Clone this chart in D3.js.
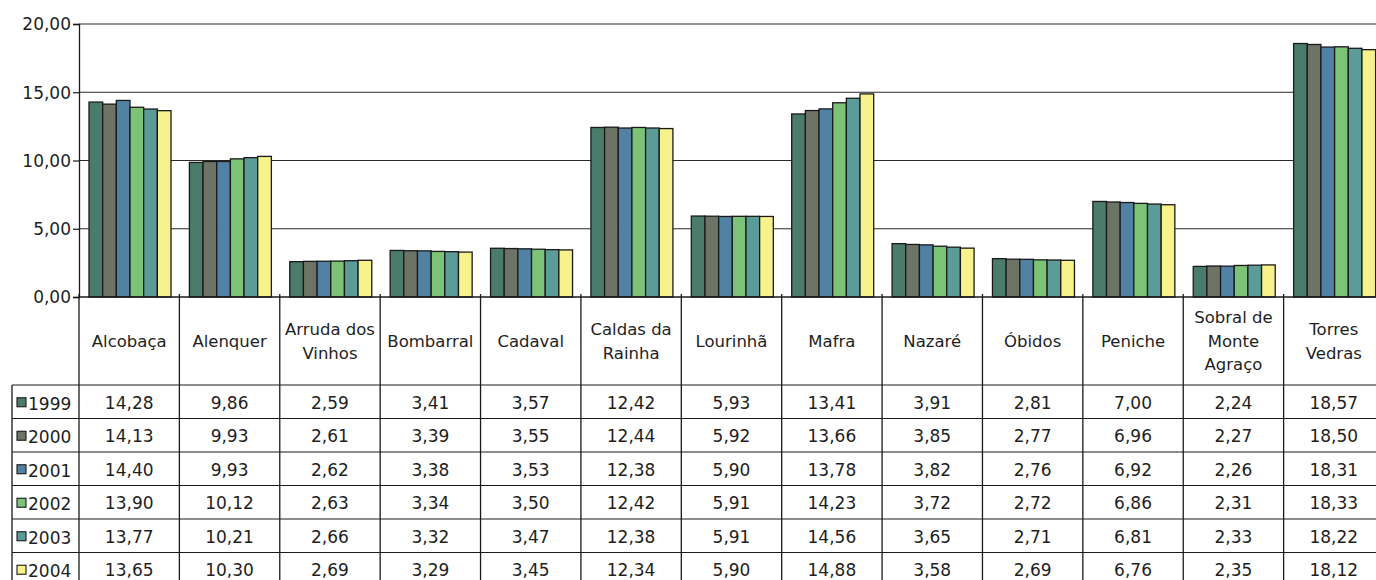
<!DOCTYPE html>
<html>
<head>
<meta charset="utf-8">
<script src="https://cdn.jsdelivr.net/npm/d3@7"></script>
<style>
  html, body { margin: 0; padding: 0; background: #fff; }
  svg { display: block; }
  text { font-family: "DejaVu Sans", Verdana, sans-serif; fill: #1e1e1e; }
</style>
</head>
<body>
<svg id="chart" width="1376" height="580"></svg>
<script>
const categories = ["Alcobaça","Alenquer","Arruda dos Vinhos","Bombarral","Cadaval","Caldas da Rainha","Lourinhã","Mafra","Nazaré","Óbidos","Peniche","Sobral de Monte Agraço","Torres Vedras"];
const categoryLines = [["Alcobaça"],["Alenquer"],["Arruda dos","Vinhos"],["Bombarral"],["Cadaval"],["Caldas da","Rainha"],["Lourinhã"],["Mafra"],["Nazaré"],["Óbidos"],["Peniche"],["Sobral de","Monte","Agraço"],["Torres","Vedras"]];
const years = ["1999","2000","2001","2002","2003","2004"];
const v1999 = [14.28,9.86,2.59,3.41,3.57,12.42,5.93,13.41,3.91,2.81,7.00,2.24,18.57];
const v2000 = [14.13,9.93,2.61,3.39,3.55,12.44,5.92,13.66,3.85,2.77,6.96,2.27,18.50];
const v2001 = [14.40,9.93,2.62,3.38,3.53,12.38,5.90,13.78,3.82,2.76,6.92,2.26,18.31];
const v2002 = [13.90,10.12,2.63,3.34,3.50,12.42,5.91,14.23,3.72,2.72,6.86,2.31,18.33];
const v2003 = [13.77,10.21,2.66,3.32,3.47,12.38,5.91,14.56,3.65,2.71,6.81,2.33,18.22];
const v2004 = [13.65,10.30,2.69,3.29,3.45,12.34,5.90,14.88,3.58,2.69,6.76,2.35,18.12];
const yTicks = [0,5,10,15,20];
const colors = ["#4b7b6a","#6d7365","#5282a3","#7cc378","#5c9c98","#f7f28c"];

const series = [v1999,v2000,v2001,v2002,v2003,v2004];

const svg = d3.select("#chart");
const loc = d3.formatLocale({decimal: ",", thousands: ".", grouping: [3], currency: ["",""]});
const fmt = loc.format(".2f");

const x0 = d3.scaleBand().domain(categories).range([79, 1384]).paddingInner(0).paddingOuter(0);
const x1 = d3.scaleBand().domain(years).range([10, 92]).padding(0);
const y = d3.scaleLinear().domain([0, 20]).range([297, 24]);

const plotRight = 1376;
const tableTop = 385, rowH = 33.5;

// gridlines
svg.append("g").selectAll("line").data(yTicks.filter(d => d > 0)).join("line")
  .attr("x1", 79).attr("x2", plotRight)
  .attr("y1", d => y(d)).attr("y2", d => y(d))
  .attr("stroke", "#2a2a2a").attr("stroke-width", 1.2);

// bars
const groups = svg.append("g").selectAll("g").data(categories).join("g")
  .attr("transform", d => `translate(${x0(d)},0)`);
groups.selectAll("rect").data((c, i) => years.map((yr, j) => ({yr, v: series[j][i], j}))).join("rect")
  .attr("x", d => x1(d.yr))
  .attr("width", x1.bandwidth())
  .attr("y", d => y(d.v))
  .attr("height", d => y(0) - y(d.v))
  .attr("fill", d => colors[d.j])
  .attr("stroke", "#1a1a1a").attr("stroke-width", 1.3);

// y axis
const yAxis = d3.axisLeft(y).tickValues(yTicks).tickFormat(fmt).tickSize(6).tickPadding(2);
const ga = svg.append("g").attr("transform", "translate(79,0)").call(yAxis);
ga.select(".domain").attr("stroke", "#1a1a1a").attr("stroke-width", 1.3);
ga.selectAll(".tick line").attr("stroke", "#1a1a1a").attr("stroke-width", 1.2);
ga.selectAll(".tick text").style("font-size", "17px").attr("fill", "#1e1e1e").attr("font-family", "DejaVu Sans").attr("dy", "0.35em");

// zero axis line
svg.append("line").attr("x1", 79).attr("x2", plotRight).attr("y1", y(0)).attr("y2", y(0))
  .attr("stroke", "#1a1a1a").attr("stroke-width", 1.3);

// table
const tableBottom = tableTop + rowH * years.length;
// vertical lines
const bounds = categories.map(c => x0(c)).concat([x0(categories[categories.length-1]) + x0.bandwidth()]);
svg.append("g").selectAll("line").data(bounds).join("line")
  .attr("x1", d => d).attr("x2", d => d)
  .attr("y1", y(0) - 3).attr("y2", 580)
  .attr("stroke", "#1a1a1a").attr("stroke-width", 1.3);
// left legend border
svg.append("line").attr("x1", 12).attr("x2", 12).attr("y1", tableTop).attr("y2", 580)
  .attr("stroke", "#1a1a1a").attr("stroke-width", 1.3);
// horizontal row lines
svg.append("g").selectAll("line").data(d3.range(years.length + 1)).join("line")
  .attr("x1", 12).attr("x2", plotRight)
  .attr("y1", i => tableTop + i * rowH).attr("y2", i => tableTop + i * rowH)
  .attr("stroke", "#1a1a1a").attr("stroke-width", 1.2);

// category labels
const lh = 23.5;
const catG = svg.append("g").selectAll("text").data(categories).join("text")
  .attr("text-anchor", "middle")
  .style("font-size", "16.5px")
  .attr("x", c => x0(c) + x0.bandwidth() / 2)
  .attr("y", (c, i) => 341 - (categoryLines[i].length - 1) * lh / 2)
  .attr("dy", "0.35em");
catG.selectAll("tspan").data((c, i) => categoryLines[i]).join("tspan")
  .attr("x", function() { return d3.select(this.parentNode).attr("x"); })
  .attr("dy", (d, k) => k === 0 ? "0.35em" : lh + "px")
  .text(d => d);
catG.attr("dy", null);

// legend column
const legendRows = svg.append("g").selectAll("g").data(years).join("g")
  .attr("transform", (d, i) => `translate(0,${tableTop + i * rowH + rowH / 2})`);
legendRows.append("rect").attr("x", 17).attr("y", -4).attr("width", 9).attr("height", 9)
  .attr("fill", (d, i) => colors[i]).attr("stroke", "#1a1a1a").attr("stroke-width", 1.1);
legendRows.append("text").attr("x", 28).attr("y", 2).attr("dy", "0.35em")
  .style("font-size", "17px").text(d => d);

// values
years.forEach((yr, j) => {
  svg.append("g").selectAll("text").data(series[j]).join("text")
    .attr("text-anchor", "middle")
    .style("font-size", "17px")
    .attr("x", (v, i) => x0(categories[i]) + x0.bandwidth() / 2)
    .attr("y", tableTop + j * rowH + rowH / 2 + 1)
    .attr("dy", "0.35em")
    .text(v => fmt(v));
});
</script>
</body>
</html>
